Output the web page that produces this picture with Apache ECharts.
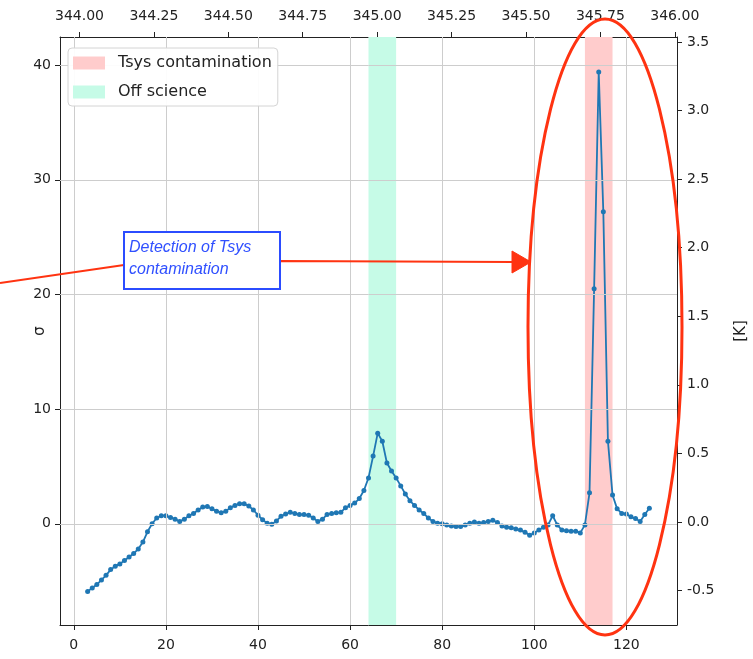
<!DOCTYPE html>
<html>
<head>
<meta charset="utf-8">
<script src="https://cdn.jsdelivr.net/npm/echarts@6/dist/echarts.min.js"></script>
<style>
html,body{margin:0;padding:0;background:#fff;}
#chart{width:753px;height:659px;}
</style>
</head>
<body>
<div id="chart"></div>
<script>
// ---- data ----
const channels = [3,4,5,6,7,8,9,10,11,12,13,14,15,16,17,18,19,20,21,22,23,24,25,26,27,28,29,30,31,32,33,34,35,36,37,38,39,40,41,42,43,44,45,46,47,48,49,50,51,52,53,54,55,56,57,58,59,60,61,62,63,64,65,66,67,68,69,70,71,72,73,74,75,76,77,78,79,80,81,82,83,84,85,86,87,88,89,90,91,92,93,94,95,96,97,98,99,100,101,102,103,104,105,106,107,108,109,110,111,112,113,114,115,116,117,118,119,120,121,122,123,124,125];
const sigma = [-5.9,-5.6,-5.3,-4.9,-4.5,-4.0,-3.7,-3.5,-3.2,-2.9,-2.6,-2.2,-1.6,-0.7,0.0,0.5,0.7,0.7,0.55,0.4,0.2,0.4,0.7,0.9,1.2,1.45,1.5,1.3,1.1,0.95,1.1,1.4,1.6,1.75,1.75,1.55,1.2,0.75,0.35,0.05,-0.05,0.25,0.65,0.85,1.0,0.9,0.8,0.8,0.75,0.5,0.2,0.4,0.8,0.9,0.95,1.0,1.4,1.6,1.8,2.2,2.9,4.0,5.9,7.9,7.2,5.3,4.6,4.0,3.3,2.6,2.0,1.6,1.2,0.9,0.5,0.2,0.05,0.0,-0.1,-0.2,-0.25,-0.25,-0.1,0.05,0.15,0.05,0.1,0.2,0.3,0.1,-0.2,-0.3,-0.35,-0.45,-0.55,-0.75,-1.0,-0.8,-0.55,-0.3,-0.1,0.7,-0.1,-0.55,-0.6,-0.65,-0.65,-0.8,-0.1,2.7,20.5,39.4,27.2,7.2,2.5,1.3,0.9,0.85,0.6,0.45,0.2,0.8,1.35];
const bottomTicks = [0,20,40,60,80,100,120];
const topTicks = [344.00,344.25,344.50,344.75,345.00,345.25,345.50,345.75,346.00];
const leftTicks = [0,10,20,30,40];
const rightTicks = [-0.5,0.0,0.5,1.0,1.5,2.0,2.5,3.0,3.5];
const tsysBand = [111,117];
const offScienceBand = [64,70];
const legendNames = ['Tsys contamination','Off science'];
const annotationText = 'Detection of Tsys\ncontamination';

// ---- chart ----
const chart = echarts.init(document.getElementById('chart'));
const tickFont = {fontFamily:'DejaVu Sans', fontSize:14, color:'#222'};
const axisLine = {show:true, onZero:false, lineStyle:{color:'#222', width:1}};
const axisTick = (vals)=>({show:true, inside:false, length:5, lineStyle:{color:'#222'}, customValues: vals});

const option = {
  animation:false,
  backgroundColor:'#fff',
  grid:{left:60, top:37, width:617, height:588, containLabel:false, outerBoundsMode:'none'},
  legend:{
    data:legendNames,
    orient:'vertical',
    left:68, top:48, z:20,
    icon:'rect',
    itemWidth:32, itemHeight:13, itemGap:13,
    padding:[7,6,6,5],
    backgroundColor:'rgba(255,255,255,0.93)',
    borderColor:'#d4d4d4', borderWidth:1, borderRadius:4,
    formatter:(name)=>'{s|}' + name,
    textStyle:{fontFamily:'DejaVu Sans', fontSize:16, color:'#222', lineHeight:13,
      rich:{s:{width:8}}},
    selectedMode:false
  },
  xAxis:[
    {type:'value', position:'bottom', min:-3, max:131,
     axisLine:axisLine, axisTick:axisTick(bottomTicks), splitLine:{show:false},
     axisLabel:Object.assign({margin:13, customValues:bottomTicks}, tickFont)},
    {type:'value', position:'top', min:343.9345, max:346.0074,
     axisLine:axisLine, axisTick:axisTick(topTicks), splitLine:{show:false},
     axisLabel:Object.assign({margin:14, customValues:topTicks, formatter:(v)=>v.toFixed(2)}, tickFont)}
  ],
  yAxis:[
    {type:'value', position:'left', min:-8.83, max:42.45,
     name:'σ', nameLocation:'middle', nameGap:12, nameRotate:90, nameMoveOverlap:false,
     nameTextStyle:{fontFamily:'DejaVu Sans', fontSize:15, color:'#222'},
     axisLine:axisLine, axisTick:axisTick(leftTicks), splitLine:{show:false},
     axisLabel:Object.assign({margin:9, customValues:leftTicks}, tickFont)},
    {type:'value', position:'right', min:-0.751, max:3.536,
     name:'[K]', nameLocation:'middle', nameGap:57, nameRotate:90, nameMoveOverlap:false,
     nameTextStyle:{fontFamily:'DejaVu Sans', fontSize:15, color:'#222'},
     axisLine:axisLine, axisTick:axisTick(rightTicks), splitLine:{show:false},
     axisLabel:Object.assign({margin:10, customValues:rightTicks, formatter:(v)=>v.toFixed(1)}, tickFont)}
  ],
  series:[
    {name:legendNames[0], type:'line', xAxisIndex:0, yAxisIndex:0, data:[], z:1,
     color:'#ffcccc', itemStyle:{color:'#ffcccc'}, lineStyle:{color:'#ffcccc'},
     markArea:{silent:true, itemStyle:{color:'#ffcccc', opacity:1},
       data:[[{xAxis:tsysBand[0]},{xAxis:tsysBand[1]}]]}},
    {name:legendNames[1], type:'line', xAxisIndex:0, yAxisIndex:0, data:[], z:1,
     color:'#c6fbe7', itemStyle:{color:'#c6fbe7'}, lineStyle:{color:'#c6fbe7'},
     markArea:{silent:true, itemStyle:{color:'#c6fbe7', opacity:1},
       data:[[{xAxis:offScienceBand[0]},{xAxis:offScienceBand[1]}]]}},
    {name:'grid', type:'line', xAxisIndex:0, yAxisIndex:0, data:[], z:2,
     markLine:{silent:true, symbol:['none','none'], label:{show:false},
       lineStyle:{color:'#cdcdcd', width:1, type:'solid'},
       emphasis:{disabled:true},
       data: bottomTicks.map(v=>({xAxis:v})).concat(leftTicks.map(v=>({yAxis:v})))}},
    {name:'sigma', type:'line', xAxisIndex:0, yAxisIndex:0, z:3,
     data: channels.map((c,i)=>[c, sigma[i]]),
     symbol:'circle', symbolSize:5, showSymbol:true, showAllSymbol:true,
     itemStyle:{color:'#1f77b4'}, lineStyle:{color:'#1f77b4', width:1.8}}
  ],
  graphic:[
    {type:'polyline', z:100, shape:{points:[[0,283],[124,265],[280,261],[514,262]]},
     style:{stroke:'#ff3311', lineWidth:2, fill:null}},
    {type:'polygon', z:101, shape:{points:[[512,251],[531,262],[512,273]]},
     style:{fill:'#ff3311', stroke:'#ff3311'}},
    {type:'rect', z:102, shape:{x:124, y:232, width:156, height:57},
     style:{fill:'#fff', stroke:'#2b4cff', lineWidth:2}},
    {type:'text', z:103, x:129, y:237,
     style:{text:annotationText, fill:'#3050ff', fontStyle:'italic', fontSize:16,
            fontFamily:'Liberation Sans', lineHeight:22}},
    {type:'ellipse', z:104, shape:{cx:605, cy:327, rx:77, ry:308},
     style:{fill:null, stroke:'#ff3311', lineWidth:3}}
  ]
};
chart.setOption(option);
</script>
</body>
</html>
